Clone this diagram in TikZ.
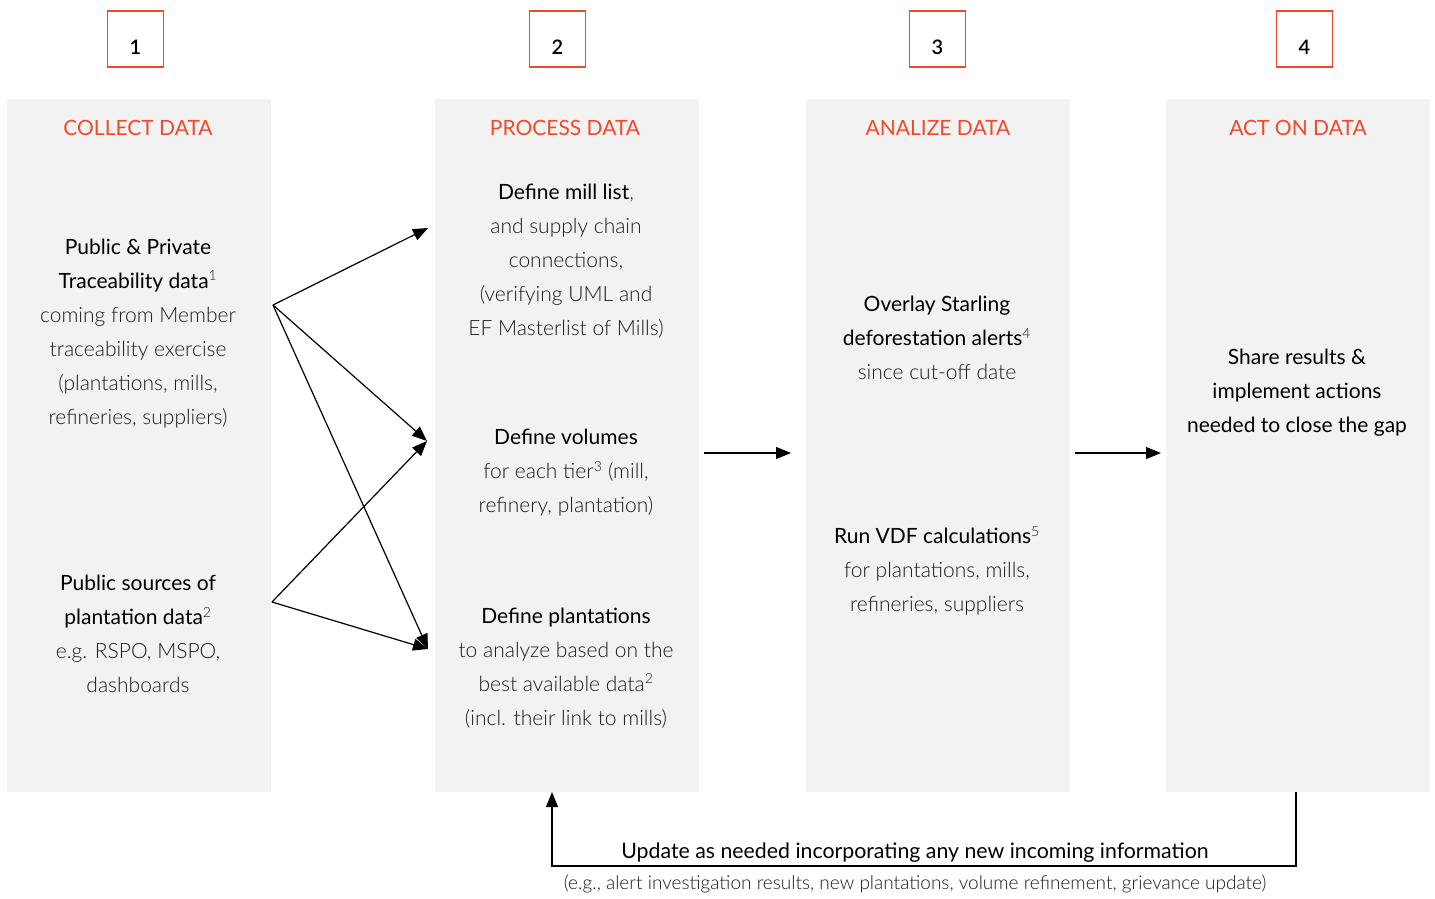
\documentclass[tikz,border=0pt]{standalone}
\usepackage{fontspec}
\setmainfont{Lato}
\newfontfamily\lightfont{Lato Light}
\newfontfamily\numfont{Lato Semibold}
\usetikzlibrary{arrows.meta}
\definecolor{panelgray}{HTML}{F2F2F2}
\definecolor{accent}{HTML}{EF4B2B}
\definecolor{lighttext}{HTML}{1A1A1A}
\newcommand{\lt}[1]{{\lightfont\color{lighttext}#1}}
\newcommand{\fn}[1]{\textsuperscript{\lightfont\color{lighttext}\fontsize{14}{14}\selectfont #1}}
\begin{document}
\begin{tikzpicture}[x=1pt,y=-1pt,
  panel/.style={fill=panelgray, draw=none, minimum width=264pt, minimum height=693pt, inner sep=0pt},
  numbox/.style={draw=accent, line width=1.5pt, minimum width=56pt, minimum height=56pt, inner sep=0pt, text height=30pt, text depth=0pt, font=\numfont\fontsize{20}{20}\selectfont},
  title/.style={text=accent, font=\fontsize{21}{21}\selectfont},
  block/.style={align=center, inner sep=0pt, font=\fontsize{21}{34}\selectfont},
  conn/.style={line width=1.2pt, -{Triangle[length=15pt,width=12pt]}},
  note/.style={inner sep=0pt}
]
\useasboundingbox (0,0) rectangle (1435,898);
% panels
\node[panel] (p1) at (139,445.5) {};
\node[panel] (p2) at (566.5,445.5) {};
\node[panel] (p3) at (937.5,445.5) {};
\node[panel] (p4) at (1297.5,445.5) {};
% number boxes
\node[numbox] (n1) at (135.5,39) {1};
\node[numbox] (n2) at (557.5,39) {2};
\node[numbox] (n3) at (937.5,39) {3};
\node[numbox] (n4) at (1304.5,39) {4};
% titles
\node[title] (t1) at (138,128) {COLLECT DATA};
\node[title] (t2) at (565,128) {PROCESS DATA};
\node[title] (t3) at (938,128) {ANALIZE DATA};
\node[title] (t4) at (1298,128) {ACT ON DATA};
% blocks
\node[block] (b1a) at (138,333.5) {Public \& Private\\Traceability data\fn{1}\\\lt{coming from Member}\\\lt{traceability exercise}\\\lt{(plantations, mills,}\\\lt{refineries, suppliers)}};
\node[block] (b1b) at (138,634) {Public sources of\\plantation data\fn{2}\\\lt{e.g. RSPO, MSPO,}\\\lt{dashboards}};
\node[block] (b2a) at (566,261) {Define mill list\lt{,}\\\lt{and supply chain}\\\lt{connections,}\\\lt{(verifying UML and}\\\lt{EF Masterlist of Mills)}};
\node[block] (b2b) at (566,473) {Define volumes\\\lt{for each tier\fn{3} (mill,}\\\lt{refinery, plantation)}};
\node[block] (b2c) at (566,668) {Define plantations\\\lt{to analyze based on the}\\\lt{best available data\fn{2}}\\\lt{(incl. their link to mills)}};
\node[block] (b3a) at (937,338) {Overlay Starling\\deforestation alerts\fn{4}\\\lt{since cut-off date}};
\node[block] (b3b) at (937,571) {Run VDF calculations\fn{5}\\\lt{for plantations, mills,}\\\lt{refineries, suppliers}};
\node[block] (b4) at (1297,393) {Share results \&\\implement actions\\needed to close the gap};
% connector coordinates
\coordinate (s1) at (273,305);
\coordinate (s2) at (272,602);
\coordinate (e1) at (428,228);
\coordinate (e2) at (427,441);
\coordinate (e3) at (428,649);
\coordinate (h1) at (704,453);
\coordinate (h2) at (791,453);
\coordinate (h3) at (1075,453);
\coordinate (h4) at (1161,453);
\coordinate (f1) at (1296,866);
\coordinate (f2) at (552,792);
\draw[conn] (s1) -- (e1);
\draw[conn] (s1) -- (e2);
\draw[conn] (s1) -- (e3);
\draw[conn] (s2) -- (e2);
\draw[conn] (s2) -- (e3);
\draw[conn] (h1) -- (h2);
\draw[conn] (h3) -- (h4);
\draw[conn] (f1 |- p4.south) -- (f1) -| (f2);
\node[note, font=\fontsize{21.3}{21.3}\selectfont] (u1) at (915,853) {Update as needed incorporating any new incoming information};
\node[note, font=\lightfont\fontsize{19}{19}\selectfont, text=lighttext] (u2) at (915,884) {(e.g., alert investigation results, new plantations, volume refinement, grievance update)};
\end{tikzpicture}
\end{document}
